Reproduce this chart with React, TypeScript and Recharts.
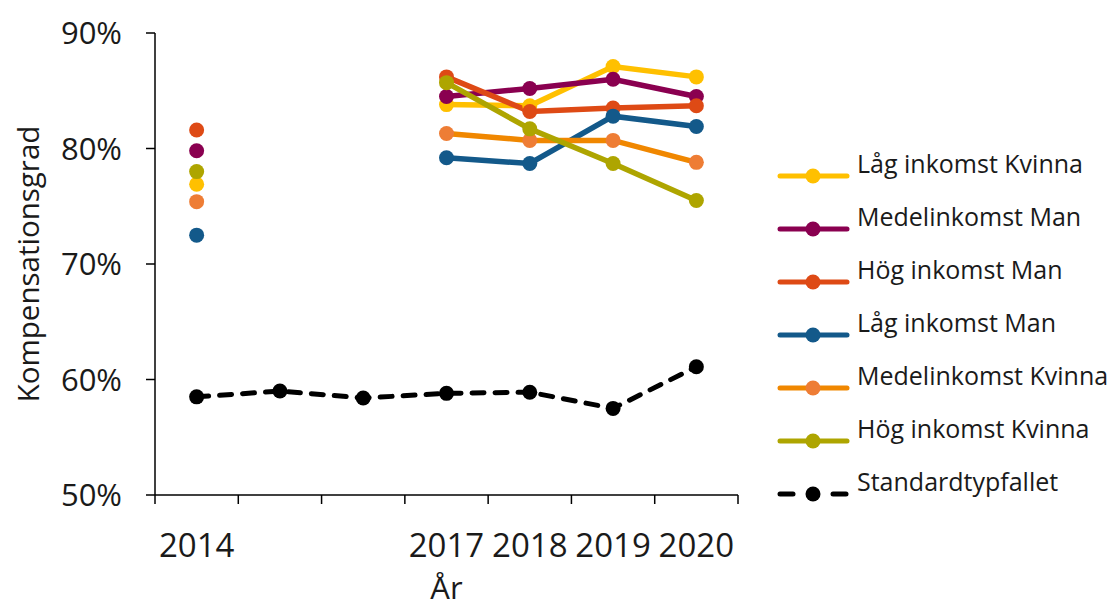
import { Label, Line, LineChart, XAxis, YAxis } from "recharts";

const years = [2014, 2015, 2016, 2017, 2018, 2019, 2020];
const labelYears = [2014, 2017, 2018, 2019, 2020];
const yTicks = [50, 60, 70, 80, 90];

// Kompensationsgrad i procent per år (null = saknas)
const lagKvinna = [76.9, null, null, 83.8, 83.7, 87.1, 86.2];
const medelMan = [79.8, null, null, 84.5, 85.2, 86.0, 84.5];
const hogMan = [81.6, null, null, 86.2, 83.2, 83.5, 83.7];
const lagMan = [72.5, null, null, 79.2, 78.7, 82.8, 81.9];
const medelKvinna = [75.4, null, null, 81.3, 80.7, 80.7, 78.8];
const hogKvinna = [78.0, null, null, 85.7, 81.7, 78.7, 75.5];
const standard = [58.5, 59.0, 58.4, 58.8, 58.9, 57.5, 61.1];

const series = [
  { key: "lagKvinna", name: "Låg inkomst Kvinna", values: lagKvinna, color: "#FFC000", dot: "#FFC000" },
  { key: "medelMan", name: "Medelinkomst Man", values: medelMan, color: "#8A0050", dot: "#8A0050" },
  { key: "hogMan", name: "Hög inkomst Man", values: hogMan, color: "#DE4A15", dot: "#DE4A15" },
  { key: "lagMan", name: "Låg inkomst Man", values: lagMan, color: "#13598A", dot: "#13598A" },
  { key: "medelKvinna", name: "Medelinkomst Kvinna", values: medelKvinna, color: "#F08700", dot: "#EE7D35" },
  { key: "hogKvinna", name: "Hög inkomst Kvinna", values: hogKvinna, color: "#AEA500", dot: "#AEA500" },
];

const data = years.map((year, i) => {
  const row: Record<string, number | null> = { year, standard: standard[i] };
  series.forEach((s) => (row[s.key] = s.values[i]));
  return row;
});

// tick lines sit between the years, labels only on some years
const xTicks = [2013.5, 2014, 2014.5, 2015.5, 2016.5, 2017, 2017.5, 2018, 2018.5, 2019, 2019.5, 2020, 2020.5];

const font = "'Open Sans', sans-serif";
const ink = "#1a1a1a";

function YearTick(props: any) {
  const { x, y, payload } = props;
  const v = Number(payload.value);
  if (v % 1 !== 0) {
    return <line x1={x} x2={x} y1={y} y2={y + 9} stroke="#000" strokeWidth={1.5} />;
  }
  if (!labelYears.includes(v)) return null;
  return (
    <text x={x} y={y + 62} textAnchor="middle" fontSize={33} fontFamily={font} fill={ink}>
      {v}
    </text>
  );
}

function YTitle(props: any) {
  const { viewBox } = props;
  const cx = 27;
  const cy = viewBox.y + viewBox.height / 2;
  return (
    <text x={cx} y={cy} transform={`rotate(-90, ${cx}, ${cy})`} textAnchor="middle" dominantBaseline="central" fontSize={29.5} fontFamily={font} fill={ink}>
      Kompensationsgrad
    </text>
  );
}

function XTitle(props: any) {
  const { viewBox } = props;
  return (
    <text x={viewBox.x + viewBox.width / 2} y={599} textAnchor="middle" fontSize={31} fontFamily={font} fill={ink}>
      År
    </text>
  );
}

function LegendIcon({ color, dot, dashed }: { color: string; dot: string; dashed?: boolean }) {
  return (
    <svg width={80} height={20} style={{ display: "block" }}>
      {dashed ? (
        <>
          <line x1={3} x2={16} y1={10} y2={10} stroke="#000" strokeWidth={5} strokeLinecap="round" />
          <line x1={56} x2={69} y1={10} y2={10} stroke="#000" strokeWidth={5} strokeLinecap="round" />
        </>
      ) : (
        <line x1={3} x2={70} y1={10} y2={10} stroke={color} strokeWidth={5} strokeLinecap="round" />
      )}
      <circle cx={36} cy={10} r={7.5} fill={dot} />
    </svg>
  );
}

export default function App() {
  const legendItems = [
    ...series.map((s) => ({ name: s.name, color: s.color, dot: s.dot, dashed: false })),
    { name: "Standardtypfallet", color: "#000", dot: "#000", dashed: true },
  ];

  return (
    <div style={{ position: "absolute", left: 0, top: 0, width: 1113, height: 608, background: "#fff" }}>
      <LineChart width={1113} height={608} data={data} margin={{ top: 33, right: 375, bottom: 0, left: 0 }}>
        <XAxis
          dataKey="year"
          type="number"
          domain={[2013.5, 2020.5]}
          ticks={xTicks}
          interval={0}
          tick={<YearTick />}
          tickLine={false}
          tickSize={0}
          tickMargin={0}
          height={113}
          axisLine={{ stroke: "#000", strokeWidth: 1.5 }}
        >
          <Label content={<XTitle />} />
        </XAxis>
        <YAxis
          type="number"
          domain={[50, 90]}
          ticks={yTicks}
          interval={0}
          tickFormatter={(v) => `${v}%`}
          width={155}
          tickSize={9}
          tickMargin={24}
          tick={{ fontSize: 31, fontFamily: font, fill: ink }}
          tickLine={{ stroke: "#000", strokeWidth: 1.5 }}
          axisLine={{ stroke: "#000", strokeWidth: 1.5 }}
        >
          <Label content={<YTitle />} />
        </YAxis>
        {series.map((s) => (
          <Line
            key={s.key}
            dataKey={s.key}
            name={s.name}
            type="linear"
            stroke={s.color}
            strokeWidth={5.5}
            strokeLinecap="round"
            dot={{ r: 7.5, fill: s.dot, stroke: "none" }}
            activeDot={false}
            isAnimationActive={false}
          />
        ))}
        <Line
          dataKey="standard"
          name="Standardtypfallet"
          type="linear"
          stroke="#000"
          strokeWidth={5}
          strokeDasharray="12 11"
          strokeLinecap="round"
          dot={{ r: 7.5, fill: "#000", stroke: "none" }}
          activeDot={false}
          isAnimationActive={false}
        />
      </LineChart>
      <div style={{ position: "absolute", left: 777, top: 149, fontFamily: font, fontSize: 25, color: ink }}>
        {legendItems.map((item) => (
          <div key={item.name} style={{ display: "flex", alignItems: "center", height: 53 }}>
            <LegendIcon color={item.color} dot={item.dot} dashed={item.dashed} />
            <span style={{ whiteSpace: "nowrap", lineHeight: "28px", marginTop: -25 }}>{item.name}</span>
          </div>
        ))}
      </div>
    </div>
  );
}
